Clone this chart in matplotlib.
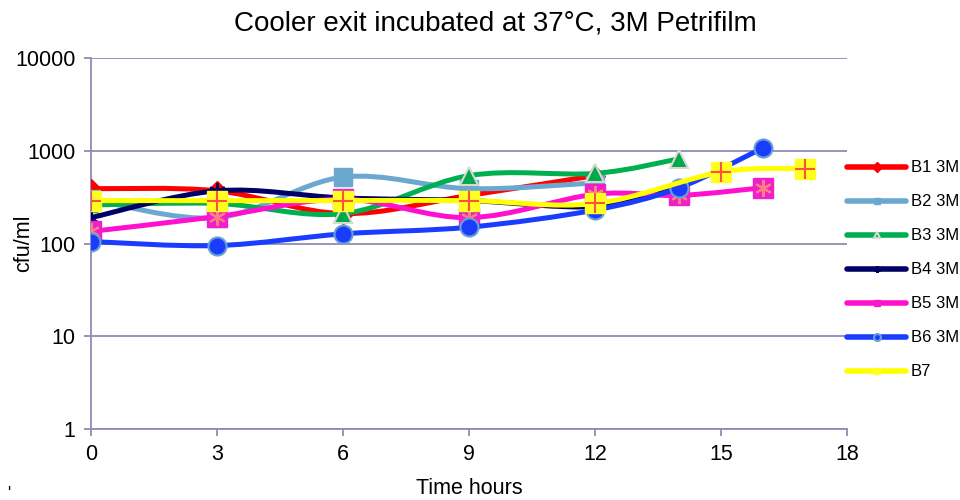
import numpy as np
import matplotlib
matplotlib.use("Agg")
import matplotlib.pyplot as plt
from matplotlib.path import Path
from matplotlib.patches import PathPatch
from matplotlib.lines import Line2D

plt.rcParams['font.family'] = ['Liberation Sans', 'DejaVu Sans']

# readings (time in hours, cfu/ml)
b1_t = [0, 3, 6, 9, 12]
b1_v = [390, 370, 210, 330, 540]
b2_t = [0, 3, 6, 9, 12]
b2_v = [300, 190, 520, 390, 450]
b3_t = [0, 3, 6, 9, 12, 14]
b3_v = [260, 270, 210, 540, 570, 820]
b4_t = [0, 3, 6, 9, 12, 14]
b4_v = [190, 370, 310, 290, 250, 400]
b5_t = [0, 3, 6, 9, 12, 14, 16]
b5_v = [135, 195, 300, 190, 340, 330, 400]
b6_t = [0, 3, 6, 9, 12, 14, 16]
b6_v = [105, 95, 127, 150, 230, 400, 1080]
b7_t = [0, 3, 6, 9, 12, 15, 17]
b7_v = [290, 290, 290, 290, 270, 590, 640]

labels = ['B1 3M', 'B2 3M', 'B3 3M', 'B4 3M', 'B5 3M', 'B6 3M', 'B7']
grid_col = '#8c8cb8'


def smooth_path(t, v):
    # bezier through the points, computed in log space like excel's smoothed line
    x = np.asarray(t, float)
    y = np.log10(np.asarray(v, float))
    verts = [(x[0], y[0])]
    codes = [Path.MOVETO]
    n = len(x)
    for i in range(n - 1):
        x0, y0 = (x[i - 1], y[i - 1]) if i > 0 else (x[i], y[i])
        x3, y3 = (x[i + 2], y[i + 2]) if i + 2 < n else (x[i + 1], y[i + 1])
        c1 = (x[i] + (x[i + 1] - x0) / 6, y[i] + (y[i + 1] - y0) / 6)
        c2 = (x[i + 1] - (x3 - x[i]) / 6, y[i + 1] - (y3 - y[i]) / 6)
        verts += [c1, c2, (x[i + 1], y[i + 1])]
        codes += [Path.CURVE4] * 3
    verts = [(a, 10 ** b) for a, b in verts]
    return Path(verts, codes)


fig = plt.figure(figsize=(9.6, 5), dpi=100)
ax = fig.add_axes([0.0948, 0.142, 0.788, 0.742])
ax.set_yscale('log')
ax.set_xlim(0, 18)
ax.set_ylim(1, 10000)

series = [
    (b1_t, b1_v, '#ff0000', dict(marker='D', ms=10, mfc='#ff0000', mec='#ff0000')),
    (b2_t, b2_v, '#6aa8d0', dict(marker='s', ms=13, mfc='#6aa8d0', mec='#6aa8d0')),
    (b3_t, b3_v, '#00b050', dict(marker='^', ms=13, mfc='#00a84c', mec='#d8d8d0', mew=1.5)),
    (b4_t, b4_v, '#000066', dict(marker=(6, 2, 0), ms=12, mec='#000066', mew=1.5)),
    (b5_t, b5_v, '#ff10d0', dict(marker='s', ms=14, mfc='#f020c8', mec='#f020c8')),
    (b6_t, b6_v, '#1a3cff', dict(marker='o', ms=13, mfc='#1a3cff', mec='#6aa0d0', mew=1.5)),
    (b7_t, b7_v, '#ffff00', dict(marker='s', ms=14, mfc='#ffff20', mec='#ffff20')),
]

handles = []
for k, (t, v, col, mk) in enumerate(series):
    z = 3 + k
    ax.add_patch(PathPatch(smooth_path(t, v), fill=False, edgecolor=col,
                           lw=3.6, capstyle='round', zorder=z))
    ax.plot(t, v, ls='none', zorder=z + 0.5, **mk)
    if k == 4:
        ax.plot(t, v, ls='none', marker=(6, 2, 0), ms=12, mec='#ff8080', mew=1.5, zorder=z + 0.6)
    if k == 6:
        ax.plot(t, v, ls='none', marker='+', ms=14, mec='#ff5040', mew=1.5, zorder=z + 0.6)
    lmk = dict(mk)
    lmk['ms'] = 5
    handles.append(Line2D([], [], color=col, lw=4, solid_capstyle='round', **lmk))

ax.yaxis.grid(True, color=grid_col, lw=1.3)
ax.set_axisbelow(True)
for s in ['top', 'right']:
    ax.spines[s].set_visible(False)
for s in ['left', 'bottom']:
    ax.spines[s].set_color(grid_col)
    ax.spines[s].set_linewidth(1.3)
    ax.spines[s].set_zorder(1)

ax.set_xticks(range(0, 19, 3))
ax.set_yticks([1, 10, 100, 1000, 10000])
ax.set_yticklabels(['1', '10', '100', '1000', '10000'])
ax.yaxis.set_minor_locator(matplotlib.ticker.NullLocator())
ax.tick_params(axis='both', colors=grid_col, labelcolor='black', labelsize=15.5,
               length=5, width=1.3, pad=6)

ax.set_title('Cooler exit incubated at 37°C, 3M Petrifilm', fontsize=20, pad=20, x=0.534)
ax.set_ylabel('cfu/ml', fontsize=15.5)
ax.yaxis.set_label_coords(-0.075, 0.5)
ax.set_xlabel('Time hours', fontsize=15.5, labelpad=9)
fig.text(0.007, 0.004, "'", fontsize=12)

ax.legend(handles, labels, loc='upper left', bbox_to_anchor=(1.0, 0.724),
          frameon=False, fontsize=12, handlelength=3.5, handletextpad=0.3,
          labelspacing=1.14, borderaxespad=0, borderpad=0)

fig.savefig('out.png', dpi=100)
